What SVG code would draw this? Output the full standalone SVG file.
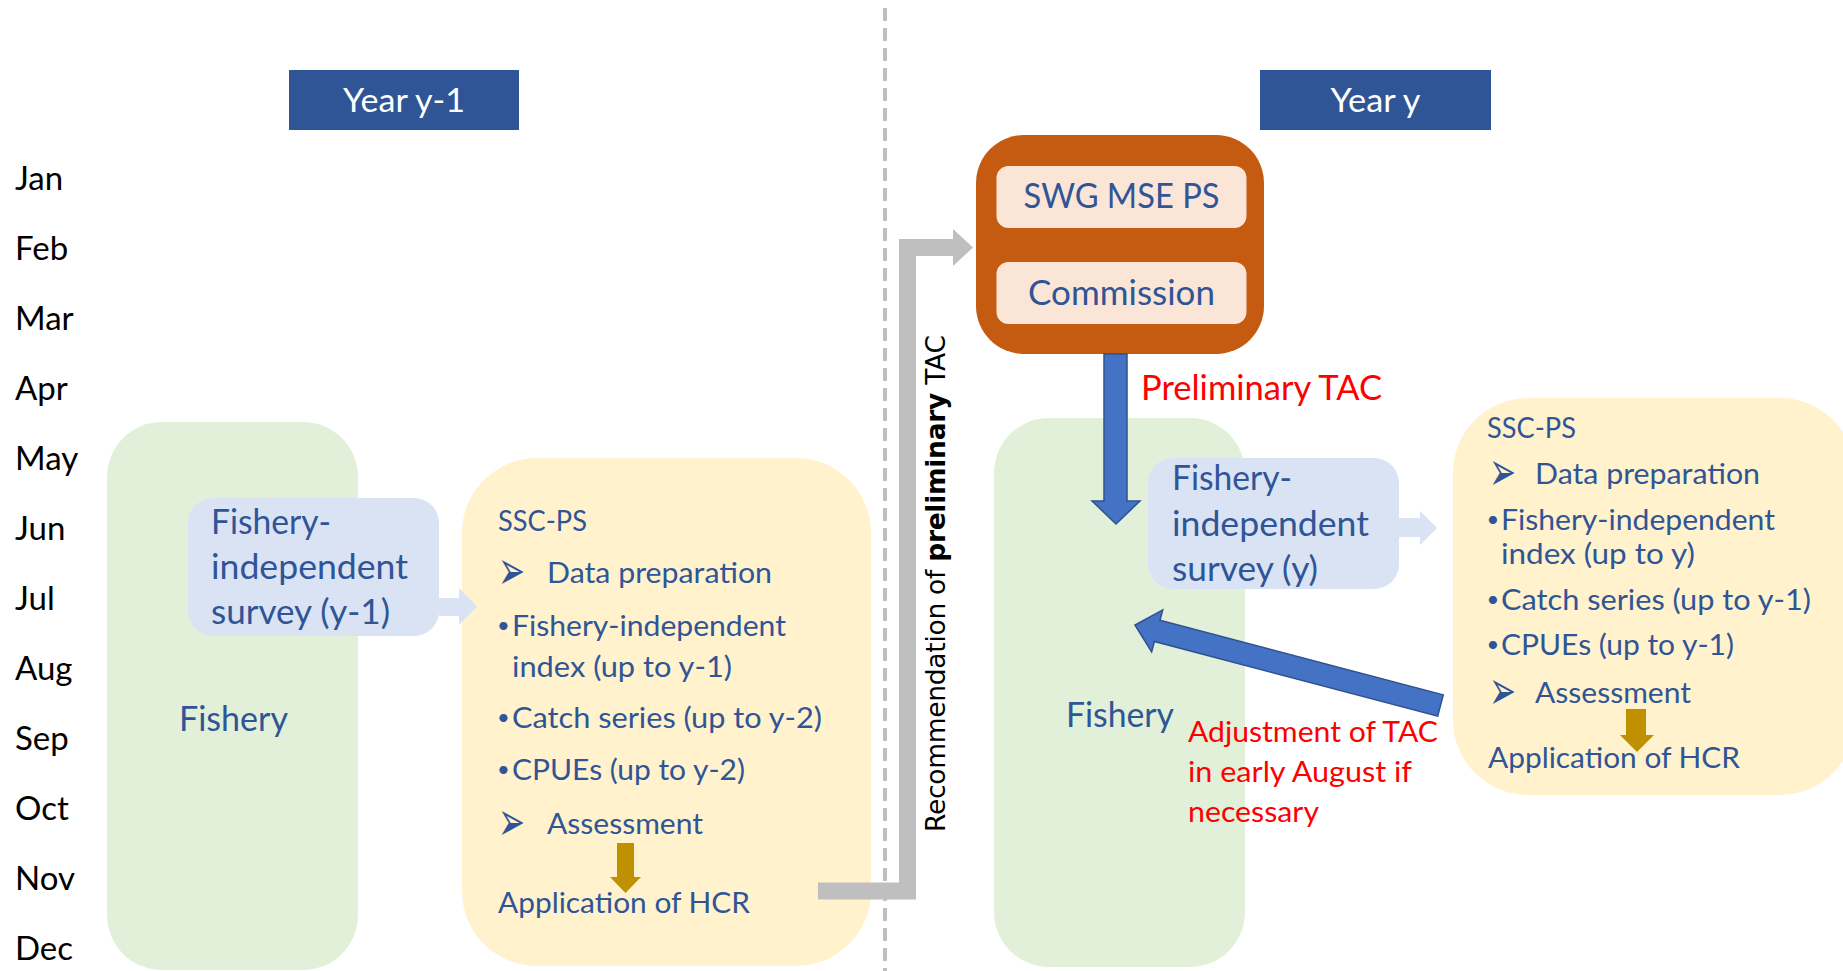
<svg xmlns="http://www.w3.org/2000/svg" width="1843" height="971" viewBox="0 0 1843 971">
  <defs>
    <style>
      text { font-family: Lato, "Open Sans", "DejaVu Sans", sans-serif; }
      .mo { font-size: 33px; fill: #000000; }
      .hd { font-size: 33px; fill: #FFFFFF; text-anchor: middle; }
      .lg { font-size: 34px; fill: #2F5597; }
      .sm { font-size: 29.5px; fill: #2F5597; }
      .bu { font-size: 22px; fill: #2F5597; text-anchor: middle; }
      .rd { fill: #FF0000; }
      .ar { font-family: "DejaVu Sans", sans-serif; font-size: 34px; fill: #2F5597; }
      .green { fill: #E2F0D9; }
      .survey { fill: #DAE3F3; }
      .ssc { fill: #FFF2CC; }
      .head { fill: #2F5597; }
      .inner { fill: #FBE5D6; }
      .gold { fill: #BF9000; }
      .bluearrow { fill: #4472C4; stroke: #2F528F; stroke-width: 1.5; stroke-linejoin: miter; }
      .grey { fill: #BFBFBF; }
    </style>
  </defs>

  <rect width="1843" height="971" fill="#FFFFFF"/>

  <!-- month axis -->
  <g id="months" class="mo">
    <text x="15" y="190">Jan</text>
    <text x="15" y="260">Feb</text>
    <text x="15" y="330">Mar</text>
    <text x="15" y="400">Apr</text>
    <text x="15" y="470">May</text>
    <text x="15" y="540">Jun</text>
    <text x="15" y="610">Jul</text>
    <text x="15" y="680">Aug</text>
    <text x="15" y="750">Sep</text>
    <text x="15" y="820">Oct</text>
    <text x="15" y="890">Nov</text>
    <text x="15" y="960">Dec</text>
  </g>

  <!-- divider between the two years -->
  <g id="divider">
    <line x1="885" y1="8" x2="885" y2="971" stroke="#BFBFBF" stroke-width="4" stroke-dasharray="13 7"/>
  </g>

  <!-- year headers -->
  <g id="year-prev">
    <rect class="head" x="289" y="70" width="230" height="60"/>
    <text class="hd" x="404" y="112" textLength="122" lengthAdjust="spacingAndGlyphs">Year y-1</text>
  </g>
  <g id="year-curr">
    <rect class="head" x="1260" y="70" width="231" height="60"/>
    <text class="hd" x="1375.5" y="112" textLength="90" lengthAdjust="spacingAndGlyphs">Year y</text>
  </g>

  <!-- year y-1 -->
  <g id="fishery-prev">
    <rect class="green" x="107" y="422" width="251" height="548" rx="55"/>
    <text class="lg" x="179" y="731" textLength="109" lengthAdjust="spacingAndGlyphs">Fishery</text>
  </g>
  <g id="survey-prev">
    <rect class="survey" x="188" y="498" width="251" height="138" rx="25"/>
    <text class="lg" x="211" y="534" textLength="120" lengthAdjust="spacingAndGlyphs">Fishery-</text>
    <text class="lg" x="211" y="579" textLength="197" lengthAdjust="spacingAndGlyphs">independent</text>
    <text class="lg" x="211" y="624" textLength="179" lengthAdjust="spacingAndGlyphs">survey (y-1)</text>
  </g>
  <g id="ssc-prev">
    <rect class="ssc" x="462" y="458" width="409" height="508" rx="75"/>
    <text class="sm" x="498" y="531" textLength="89" lengthAdjust="spacingAndGlyphs">SSC-PS</text>
    <text class="ar" transform="translate(498,589) scale(0.95,1.6)">➢</text>
    <text class="sm" x="547" y="583" textLength="225" lengthAdjust="spacingAndGlyphs">Data preparation</text>
    <text class="bu" x="503.5" y="633">•</text>
    <text class="sm" x="512" y="636" textLength="274" lengthAdjust="spacingAndGlyphs">Fishery-independent</text>
    <text class="sm" x="512" y="677" textLength="220" lengthAdjust="spacingAndGlyphs">index (up to y-1)</text>
    <text class="bu" x="503.5" y="725">•</text>
    <text class="sm" x="512" y="728" textLength="310" lengthAdjust="spacingAndGlyphs">Catch series (up to y-2)</text>
    <text class="bu" x="503.5" y="777">•</text>
    <text class="sm" x="512" y="780" textLength="233" lengthAdjust="spacingAndGlyphs">CPUEs (up to y-2)</text>
    <text class="ar" transform="translate(498,840) scale(0.95,1.6)">➢</text>
    <text class="sm" x="547" y="834" textLength="156" lengthAdjust="spacingAndGlyphs">Assessment</text>
    <text class="sm" x="498" y="913" textLength="252" lengthAdjust="spacingAndGlyphs">Application of HCR</text>
  </g>

  <!-- year y -->
  <g id="decision">
    <rect x="976" y="135" width="288" height="219" rx="48" fill="#C55A11"/>
    <rect class="inner" x="996.5" y="166" width="250" height="62" rx="12"/>
    <rect class="inner" x="996.5" y="262" width="250" height="62" rx="12"/>
    <text class="lg" x="1121.5" y="208" text-anchor="middle" textLength="196" lengthAdjust="spacingAndGlyphs">SWG MSE PS</text>
    <text class="lg" x="1121.5" y="305" text-anchor="middle" textLength="187" lengthAdjust="spacingAndGlyphs">Commission</text>
  </g>
  <g id="fishery-curr">
    <rect class="green" x="994" y="418" width="251" height="549" rx="55"/>
    <text class="lg" x="1066" y="727" textLength="108" lengthAdjust="spacingAndGlyphs">Fishery</text>
  </g>
  <g id="survey-curr">
    <rect class="survey" x="1148" y="458" width="251" height="131" rx="25"/>
    <text class="lg" x="1172" y="490" textLength="120" lengthAdjust="spacingAndGlyphs">Fishery-</text>
    <text class="lg" x="1172" y="536" textLength="197" lengthAdjust="spacingAndGlyphs">independent</text>
    <text class="lg" x="1172" y="581" textLength="146" lengthAdjust="spacingAndGlyphs">survey (y)</text>
  </g>
  <g id="ssc-curr">
    <rect class="ssc" x="1453" y="398" width="402" height="397" rx="75"/>
    <text class="sm" x="1487" y="438" textLength="89" lengthAdjust="spacingAndGlyphs">SSC-PS</text>
    <text class="ar" transform="translate(1489,490) scale(0.95,1.6)">➢</text>
    <text class="sm" x="1535" y="484" textLength="225" lengthAdjust="spacingAndGlyphs">Data preparation</text>
    <text class="bu" x="1493" y="527">•</text>
    <text class="sm" x="1501" y="530" textLength="274" lengthAdjust="spacingAndGlyphs">Fishery-independent</text>
    <text class="sm" x="1501" y="564" textLength="194" lengthAdjust="spacingAndGlyphs">index (up to y)</text>
    <text class="bu" x="1493" y="607">•</text>
    <text class="sm" x="1501" y="610" textLength="310" lengthAdjust="spacingAndGlyphs">Catch series (up to y-1)</text>
    <text class="bu" x="1493" y="652">•</text>
    <text class="sm" x="1501" y="655" textLength="233" lengthAdjust="spacingAndGlyphs">CPUEs (up to y-1)</text>
    <text class="ar" transform="translate(1489,709) scale(0.95,1.6)">➢</text>
    <text class="sm" x="1535" y="703" textLength="156" lengthAdjust="spacingAndGlyphs">Assessment</text>
    <text class="sm" x="1488" y="768" textLength="252" lengthAdjust="spacingAndGlyphs">Application of HCR</text>
  </g>

  <!-- connectors -->
  <g id="connectors">
    <!-- recommendation path from year y-1 assessment to the decision bodies -->
    <polygon class="grey" points="818,882.5 899,882.5 899,239 953,239 953,229 973,247.5 953,266 953,256 916,256 916,899.5 818,899.5"/>
    <!-- survey outputs feeding the assessment -->
    <polygon class="survey" points="439,598 459,598 459,588 477,606.5 459,625 459,616 439,616"/>
    <polygon class="survey" points="1398,518 1420,518 1420,511 1437,528 1420,545 1420,537 1398,537"/>
    <!-- assessment to HCR -->
    <polygon class="gold" points="617,843 634,843 634,877 641,877 625.5,893 610,877 617,877"/>
    <polygon class="gold" points="1626,709 1646,709 1646,735 1654,735 1637,752 1620,735 1626,735"/>
    <!-- preliminary TAC down to the fishery -->
    <polygon class="bluearrow" points="1104,354 1127,354 1127,501 1140,501 1116,524 1092,501 1104,501"/>
    <!-- TAC adjustment back to the fishery -->
    <polygon class="bluearrow" transform="translate(1440.5,705.5) rotate(14.76)" points="0,-11 -293,-11 -293,-21.7 -316,0 -293,21.7 -293,11 0,11"/>
  </g>

  <!-- connector labels -->
  <g id="labels">
    <text class="rd" x="1141" y="400" font-size="34" textLength="241" lengthAdjust="spacingAndGlyphs">Preliminary TAC</text>
    <text class="rd" x="1188" y="742" font-size="29.5" textLength="250" lengthAdjust="spacingAndGlyphs">Adjustment of TAC</text>
    <text class="rd" x="1188" y="782" font-size="29.5" textLength="224" lengthAdjust="spacingAndGlyphs">in early August if</text>
    <text class="rd" x="1188" y="822" font-size="29.5" textLength="131" lengthAdjust="spacingAndGlyphs">necessary</text>
    <text transform="translate(945,583.5) rotate(-90)" text-anchor="middle" style="font-family: 'DejaVu Sans', sans-serif; font-size: 26.5px; fill: #000000;" textLength="497">Recommendation of <tspan font-weight="bold">preliminary</tspan> TAC</text>
  </g>
</svg>
